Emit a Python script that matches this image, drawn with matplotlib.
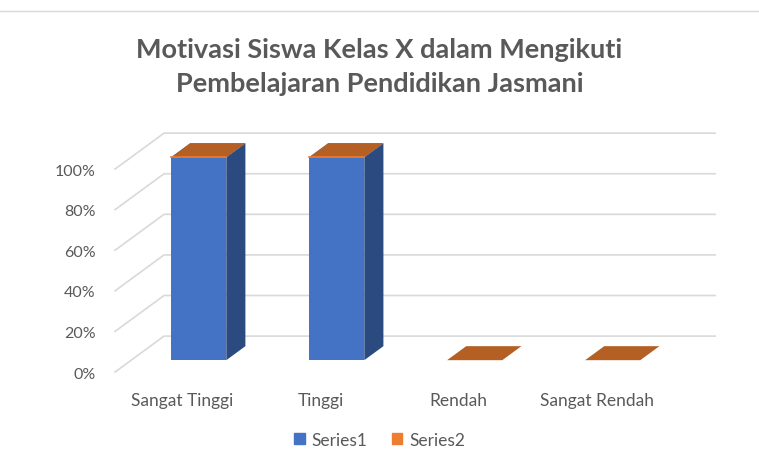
import matplotlib.pyplot as plt
from matplotlib.patches import Polygon, Patch
from matplotlib.lines import Line2D
import numpy as np

categories = ['Sangat Tinggi', 'Tinggi', 'Rendah', 'Sangat Rendah']
series1 = [1.0, 1.0, 0.0, 0.0]
series2 = [0.0, 0.0, 0.0, 0.0]
yticks = [0, 0.2, 0.4, 0.6, 0.8, 1.0]
ytick_labels = ['0%', '20%', '40%', '60%', '80%', '100%']
title = 'Motivasi Siswa Kelas X dalam Mengikuti\nPembelajaran Pendidikan Jasmani'

plt.rcParams['font.family'] = ['Lato', 'DejaVu Sans']
GRAY = '#595959'

# depth of the floor in data units
DX, DY = 0.355, 0.177
BAR_D0, BAR_D1 = 0.33, 0.72
WIDTH = 0.4


def proj(x, y, d):
	return (x + d * DX, y + d * DY)


def box(ax, xc, y0, y1, front, side, top):
	xl, xr = xc - WIDTH / 2, xc + WIDTH / 2
	f = [proj(xl, y0, BAR_D0), proj(xr, y0, BAR_D0), proj(xr, y1, BAR_D0), proj(xl, y1, BAR_D0)]
	s = [proj(xr, y0, BAR_D0), proj(xr, y0, BAR_D1), proj(xr, y1, BAR_D1), proj(xr, y1, BAR_D0)]
	t = [proj(xl, y1, BAR_D0), proj(xr, y1, BAR_D0), proj(xr, y1, BAR_D1), proj(xl, y1, BAR_D1)]
	ax.add_patch(Polygon(f, closed=True, fc=front, ec='none', zorder=3))
	ax.add_patch(Polygon(s, closed=True, fc=side, ec='none', zorder=3))
	ax.add_patch(Polygon(t, closed=True, fc=top, ec='none', zorder=3))


fig = plt.figure(figsize=(7.59, 4.52), dpi=100)
ax = fig.add_axes([100 / 759, 67 / 452, 630 / 759, 275 / 452])
ax.set_xlim(-0.598, 3.967)
ax.set_ylim(-0.059, 1.296)

x = np.arange(len(categories))
xl_wall, xr_wall = -0.489, 3.504

# walls / gridlines
for y in yticks:
	p0, p1 = proj(xl_wall, y, 0), proj(xl_wall, y, 1)
	p2 = proj(xr_wall, y, 1)
	ax.plot([p0[0], p1[0], p2[0]], [p0[1], p1[1], p2[1]], color='#d9d9d9', lw=1.2, zorder=1)

for i in x:
	s1, s2 = series1[i], series2[i]
	if s1 > 0:
		box(ax, i, 0, s1, '#4472C4', '#2B4A80', '#4472C4')
	box(ax, i, s1, s1 + s2, '#ED7D31', '#A85A22', '#B45F24')
	if s1 > 0:
		xl, xr = i - WIDTH / 2, i + WIDTH / 2
		a, b = proj(xl, s1, BAR_D0), proj(xr, s1, BAR_D0)
		ax.plot([a[0], b[0]], [a[1], b[1]], color='#ED7D31', lw=1.2, zorder=4)

ax.set_xticks(x, categories)
ax.set_yticks(yticks, ytick_labels)
ax.tick_params(length=0, colors=GRAY)
ax.tick_params(axis='y', pad=3, labelsize=11.5)
ax.tick_params(axis='x', pad=6, labelsize=12.5)
for sp in ax.spines.values():
	sp.set_visible(False)

fig.text(0.5, 1 - 67 / 452, title, ha='center', va='center', fontsize=19.5,
		 fontweight='bold', color=GRAY, linespacing=1.5)

handles = [Patch(color='#4472C4', label='Series1'), Patch(color='#ED7D31', label='Series2')]
fig.legend(handles=handles, loc='center', bbox_to_anchor=(0.5, 11 / 452), ncol=2,
		   frameon=False, fontsize=12.5, handlelength=0.6, handleheight=0.6,
		   handletextpad=0.4, columnspacing=1.4, labelcolor=GRAY)

fig.add_artist(Line2D([0, 1], [1 - 12 / 452, 1 - 12 / 452], color='#d9d9d9', lw=1))

plt.savefig('out.png', dpi=100)
